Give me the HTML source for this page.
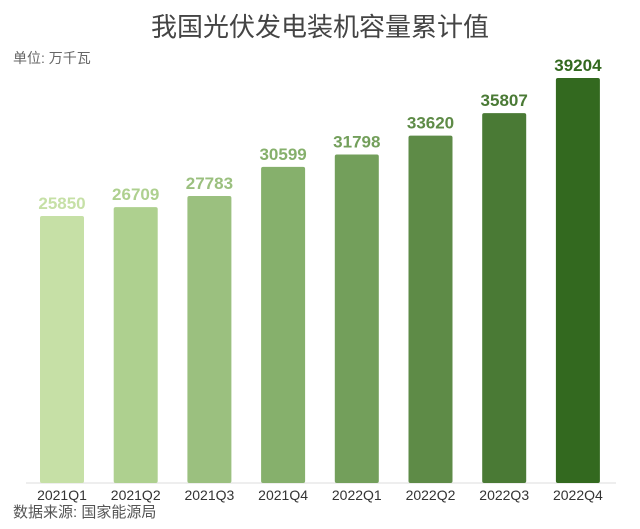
<!DOCTYPE html>
<html><head><meta charset="utf-8"><style>
body{margin:0;background:#fff;}
svg{display:block;font-family:"Liberation Sans","Noto Sans CJK SC",sans-serif;}
</style></head><body>
<svg id="chart" width="640" height="529">
<text x="320" y="36" text-anchor="middle" font-size="26" fill="#444">我国光伏发电装机容量累计值</text>
<text x="13" y="63" font-size="14" fill="#666">单位: 万千瓦</text>
<line x1="26" y1="483" x2="616" y2="483" stroke="#ddd" stroke-width="1"/>
<g id="bars"></g>
<text x="13" y="517" font-size="15" fill="#555">数据来源: 国家能源局</text>
</svg>
<script>
const categories=['2021Q1','2021Q2','2021Q3','2021Q4','2022Q1','2022Q2','2022Q3','2022Q4'];
const values=[25850,26709,27783,30599,31798,33620,35807,39204];
const colors=['#c6e0a6','#aed08f','#9bc07f','#86b06c','#739f5b','#5e8b47','#4a7a35','#33691f'];
const baseY=483, yScale=405/39204, x0=40, step=73.7, bw=44;
const y=v=>baseY-v*yScale;
const g=document.getElementById('bars');
const NS='http://www.w3.org/2000/svg';
categories.forEach((c,i)=>{
  const x=x0+i*step, top=y(values[i]);
  const r=document.createElementNS(NS,'rect');
  r.setAttribute('x',x);r.setAttribute('y',top);r.setAttribute('width',bw);r.setAttribute('height',baseY-top);
  r.setAttribute('rx',2);r.setAttribute('fill',colors[i]);
  
  
  g.appendChild(r);
  const t=document.createElementNS(NS,'text');
  t.setAttribute('x',x+bw/2);t.setAttribute('y',top-7);t.setAttribute('text-anchor','middle');
  t.setAttribute('font-size','17');t.setAttribute('font-weight','bold');t.setAttribute('fill',colors[i]);
  t.textContent=values[i];
  
  
  g.appendChild(t);
  const l=document.createElementNS(NS,'text');
  l.setAttribute('x',x+bw/2);l.setAttribute('y',500);l.setAttribute('text-anchor','middle');
  l.setAttribute('font-size','14');l.setAttribute('fill','#333');
  l.textContent=c;
  
  
  g.appendChild(l);
});
</script>
</body></html>
